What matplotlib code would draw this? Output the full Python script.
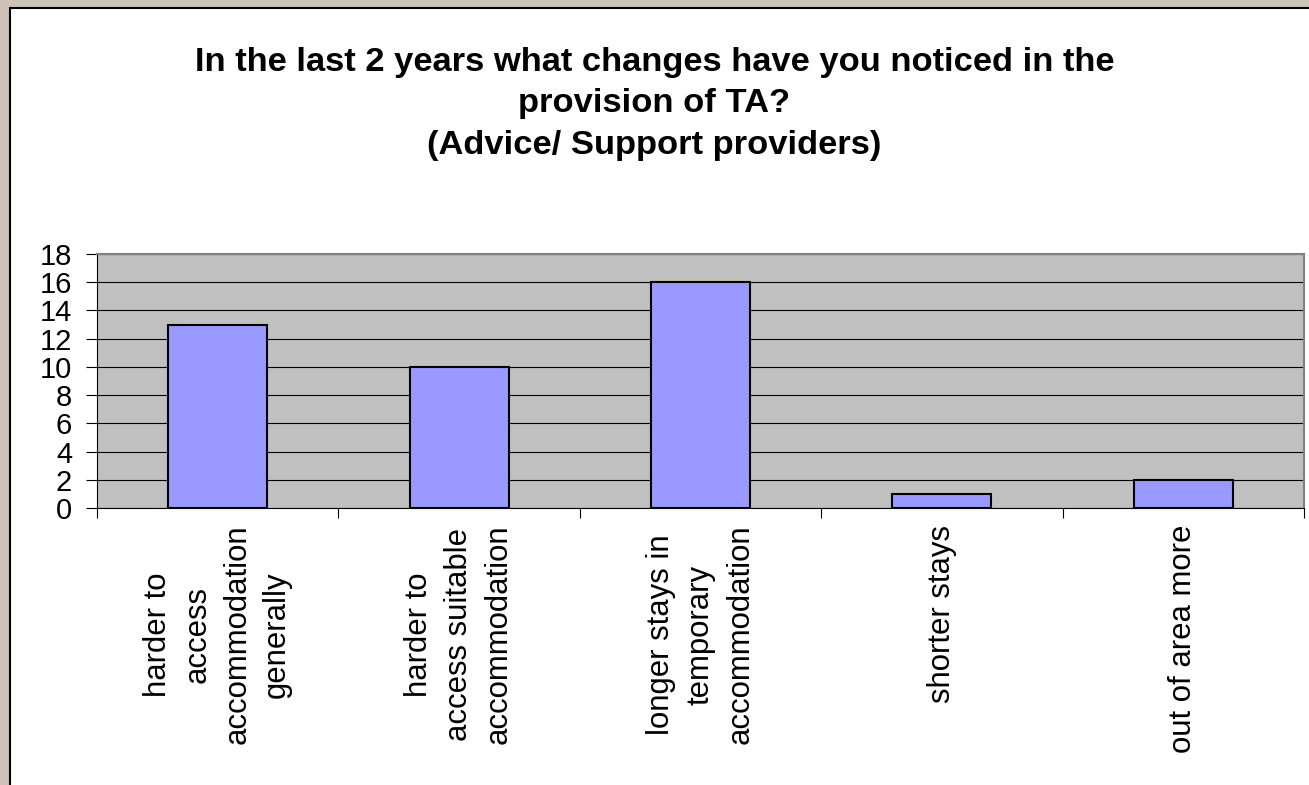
import matplotlib
matplotlib.use("Agg")
import matplotlib.pyplot as plt
from matplotlib.patches import Rectangle

plt.rcParams["font.family"] = ["Liberation Sans", "DejaVu Sans"]

categories = [
    "harder to\naccess\naccommodation\ngenerally",
    "harder to\naccess suitable\naccommodation",
    "longer stays in\ntemporary\naccommodation",
    "shorter stays",
    "out of area more",
]
counts = [13, 10, 16, 1, 2]
yticks = [0, 2, 4, 6, 8, 10, 12, 14, 16, 18]

title = ("In the last 2 years what changes have you noticed in the\n"
         "provision of TA?\n"
         "(Advice/ Support providers)")

W, H = 1309, 785
fig = plt.figure(figsize=(W / 100, H / 100), dpi=100)
fig.patch.set_facecolor("#cdc3b8")

# white chart area with the thin black frame (top and left visible)
fig.patches.append(Rectangle((9.5 / W, -0.1), 1.2, 1.1 - 7.5 / H, transform=fig.transFigure,
                             facecolor="white", edgecolor="black", linewidth=1.5, zorder=-1))

fig.text(0.5, 1 - 47 / H, title, ha="center", va="top", fontsize=24.8,
         fontweight="bold", linespacing=1.43)

ax = fig.add_axes([97 / W, 1 - 508 / H, (1304 - 97) / W, (508 - 254) / H])
ax.set_facecolor("#c0c0c0")

x = list(range(len(counts)))
ax.bar(x, counts, width=0.41, color="#9999ff", edgecolor="black", linewidth=1.5, zorder=3)

ax.set_xlim(-0.5, len(counts) - 0.5)
ax.set_ylim(0, 18)
ax.set_yticks(yticks)
ax.tick_params(axis="y", labelsize=21, length=8, width=0.8, direction="out", pad=10)
ax.yaxis.grid(True, color="black", linewidth=0.8, zorder=1)
ax.set_axisbelow(True)

# category boundaries as major ticks, labels on minor ticks
ax.set_xticks([i - 0.5 for i in range(len(counts) + 1)])
ax.set_xticklabels([])
ax.set_xticks(x, minor=True)
ax.set_xticklabels(categories, minor=True, rotation=90, fontsize=22.4,
                   multialignment="center", linespacing=1.42)
ax.tick_params(axis="x", which="major", length=7, width=0.8)
ax.tick_params(axis="x", which="minor", length=0, pad=12)

ax.spines["top"].set_color("#808080")
ax.spines["right"].set_color("#808080")
ax.spines["left"].set_linewidth(0.8)
ax.spines["bottom"].set_linewidth(0.8)
ax.spines["top"].set_linewidth(1.5)
ax.spines["right"].set_linewidth(1.5)

fig.savefig("out.png", dpi=100)
